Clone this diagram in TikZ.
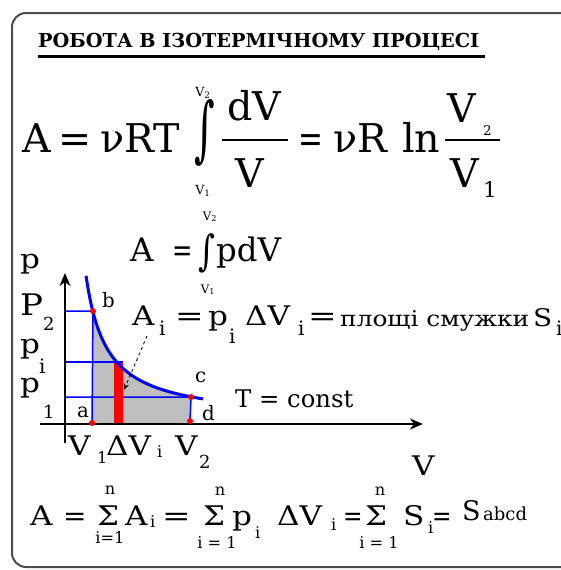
\documentclass[tikz,border=0pt]{standalone}
\usepackage{fontspec}
\setmainfont{DejaVu Serif}[Scale=0.9]
\newfontfamily\tms{DejaVu Serif}[Scale=0.9]
\newfontfamily\tmw{DejaVu Serif}[Scale=0.9,FakeStretch=1.15]
\usetikzlibrary{arrows.meta}
\newcommand\fs[1]{\tms\fontsize{#1}{#1}\selectfont}
\newcommand\fw[1]{\tmw\fontsize{#1}{#1}\selectfont}
\newcommand\eqw[1]{\scalebox{#1}[1]{=}}
\begin{document}
\begin{tikzpicture}[x=1pt,y=-1pt,>=Stealth,
    txt/.style={anchor=base west,inner sep=0pt,font=\fw{30}},
    big/.style={txt,font=\fs{44}},
    mid/.style={txt,font=\fs{36}},
    sml/.style={txt,font=\fs{18}},
    lim/.style={anchor=base,inner sep=0pt,font=\fs{18}},
    pnt/.style={circle,fill=red,inner sep=0pt,minimum size=6pt}]
    \useasboundingbox (0,0) rectangle (560,570);
    \draw[line width=2pt,black!70,rounded corners=14pt] (12,13) rectangle (620,567);
    % title
    \node[txt,font=\fs{21.4}\bfseries] (T) at (38,47) {РОБОТА В ІЗОТЕРМІЧНОМУ ПРОЦЕСІ};
    \draw[line width=3pt] ([yshift=-9pt]T.base west) -- ([yshift=-9pt,xshift=6pt]T.base east);
    % A = vRT int dV/V = vR ln V2/V1
    \node[big] (A1) at (22,152) {A};
    \node[big] (E1) at (58,152) {=};
    \node[big] (N1) at (100,152) {νRT};
    \node[big,anchor=center] (I1) at (205,133) {\scalebox{1}[1.8]{∫}};
    \node[lim,font=\fs{14}] (I1u) at (203,96) {V\textsubscript{2}};
    \node[lim,font=\fs{14}] (I1d) at (203,194) {V\textsubscript{1}};
    \node[big] (D1) at (227,120) {dV};
    \node[big] (V1) at (235,187) {V};
    \draw[line width=2pt] (222,140) -- (288,140);
    \node[big] (E2) at (298,152) {\eqw{0.75}};
    \node[big] (N2) at (333,152) {νR};
    \node[big] (L1) at (402,152) {ln};
    \draw[line width=2pt] (445,140) -- (500,140);
    \node[big] (V2) at (447,122) {V};
    \node[sml,font=\fs{15}] (V2s) at (483,135) {2};
    \node[big] (V3) at (450,187) {V};
    \node[sml,font=\fs{24}] (V3s) at (483,197) {1};
    % A = int p dV
    \node[mid] (A2) at (130,261) {A};
    \node[mid] (E3) at (172,261) {\eqw{0.75}};
    \node[mid,anchor=center] (I2) at (207,253) {\scalebox{1}[1.3]{∫}};
    \node[lim,font=\fs{13}] (I2u) at (210,220) {V\textsubscript{2}};
    \node[lim,font=\fs{13}] (I2d) at (208,293) {V\textsubscript{1}};
    \node[mid] (P1) at (216,261) {pdV};
    % graph
    \fill[gray!50] (93,424) -- plot[domain=93:191,samples=40] (\x,{424-3050/(\x-65)-3}) -- (191,424) -- cycle;
    \coordinate (a) at (92,423);
    \coordinate (b) at (93,311);
    \coordinate (c) at (191,397);
    \coordinate (d) at (190,421);
    \draw[blue,line width=1.5pt] (65,311) -- (b) -- (a);
    \draw[blue,line width=1.5pt] (65,362) -- (123,362);
    \draw[blue,line width=1.5pt] (65,397) -- (c) -- (d);
    \fill[red] (114,363) rectangle (123,424);
    \coordinate (yb) at (65,443);
    \coordinate (yt) at (65,273);
    \coordinate (xl) at (40,424);
    \coordinate (xr) at (423,424);
    \draw[line width=2.5pt,-{Stealth[length=13pt,width=11pt,inset=4pt]}] (yb) -- (yt);
    \draw[line width=2.5pt,-{Stealth[length=13pt,width=11pt,inset=4pt]}] (xl) -- (xr);
    \draw[blue,line width=3pt] plot[domain=86:203,samples=60] (\x,{424-3050/(\x-65)-3});
    \foreach \q in {a,b,c,d} \node[pnt] at (\q) {};
    \coordinate (q1) at (147,336);
    \coordinate (q2) at (124,390);
    \draw[dashed,line width=0.8pt,->] (q1) -- (q2);
    % axis labels
    \node[txt] (p0) at (20,268) {p};
    \node[txt,font=\fw{33}] (p2) at (20,315) {P};
    \node[sml,font=\fs{20}] at (43,330) {2};
    \node[txt] (pi) at (20,353) {p};
    \node[sml,font=\fs{22}] at (39,373) {i};
    \node[txt] (p1) at (20,392) {p};
    \node[sml,font=\fs{20}] at (43,418) {1};
    \node[sml,font=\fs{22}] (la) at (77,417) {a};
    \node[sml,font=\fs{22}] (lb) at (102,307) {b};
    \node[sml,font=\fs{22}] (lc) at (195,382) {c};
    \node[sml,font=\fs{22}] (ld) at (202,420) {d};
    \node[txt,font=\fs{27}] (Tc) at (235,407) {T = const};
    \node[txt] (v1) at (68,455) {V};
    \node[sml] at (97,463) {1};
    \node[txt] (dv) at (106,455) {ΔV};
    \node[sml] at (157,457) {i};
    \node[txt] (v2) at (175,455) {V};
    \node[sml,font=\fs{20}] at (199,468) {2};
    \node[txt] (vx) at (412,475) {V};
    % A_i = p_i dV_i
    \node[txt] (Ai) at (132,325) {A};
    \node[sml,font=\fs{22}] at (159,335) {i};
    \node[txt] (E4) at (175,325) {\eqw{1.1}};
    \node[txt] (pA) at (208,325) {p};
    \node[sml,font=\fs{22}] at (229,343) {i};
    \node[txt] (dA) at (245,325) {ΔV};
    \node[sml,font=\fs{22}] at (298,335) {i};
    \node[txt] (E5) at (308,325) {\eqw{1.1}};
    \node[txt,font=\fw{24}] (pl) at (340,326) {площі смужки};
    \node[txt,font=\fw{27}] (S0) at (533,326) {S};
    \node[sml,font=\fs{22}] at (556,335) {i};
    % sum
    \node[txt] (A3) at (30,525) {A};
    \node[txt] (E6) at (63,525) {\eqw{0.9}};
    \node[txt] (S1) at (97,525) {Σ};
    \node[lim] at (110,494) {n};
    \node[lim] at (110,543) {i=1};
    \node[txt] (A4) at (125,525) {A};
    \node[sml] at (150,527) {i};
    \node[txt] (E7) at (162,525) {\eqw{1.1}};
    \node[txt] (S2) at (203,525) {Σ};
    \node[lim] at (220,495) {n};
    \node[lim] at (217,548) {i = 1};
    \node[txt] (pB) at (232,525) {p};
    \node[sml] at (255,538) {i};
    \node[txt] (dB) at (277,525) {ΔV};
    \node[sml] at (331,530) {i};
    \node[txt] (E8) at (343,525) {\eqw{0.75}};
    \node[txt] (S3) at (365,525) {Σ};
    \node[lim] at (380,495) {n};
    \node[lim] at (379,548) {i = 1};
    \node[txt] (S4) at (403,525) {S};
    \node[sml] at (428,533) {i};
    \node[txt] (E9) at (432,525) {\eqw{0.75}};
    \node[txt,font=\fs{30}] (S5) at (462,520) {S};
    \node[sml,font=\fs{20}] (abcd) at (483,520) {abcd};
\end{tikzpicture}
\end{document}
